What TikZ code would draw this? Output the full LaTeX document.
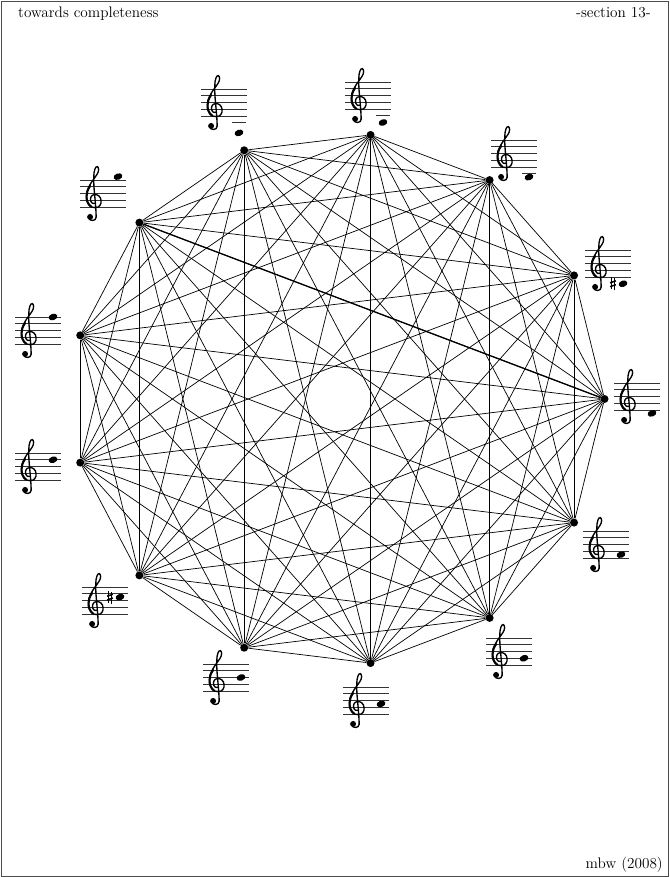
\documentclass[tikz,border=0pt]{standalone}
\usepackage{tikz}
\usetikzlibrary{shapes.geometric}
\usetikzlibrary{calc}
% treble clef: #1 = x of the stem, #2 = y of the G line (one unit = one staff space)
\newcommand{\trebleclef}[2]{%
  \begin{scope}[shift={(#1,#2)}, scale=7.1, clefline]
    \draw (0.3,-2.4) .. controls (0.3,-1.2) and (0.1,0.5) .. (0.0,1.8)
      .. controls (-0.05,2.7) and (-0.1,3.9) .. (0.15,4.45)
      .. controls (0.3,4.85) and (0.65,4.85) .. (0.65,4.3)
      .. controls (0.65,3.4) and (-1.0,2.4) .. (-1.05,0.6)
      .. controls (-1.1,-0.5) and (-0.5,-1.05) .. (0.15,-1.05)
      .. controls (0.75,-1.05) and (1.05,-0.6) .. (1.0,-0.05)
      .. controls (0.95,0.55) and (0.5,0.85) .. (0.05,0.8)
      .. controls (-0.4,0.75) and (-0.6,0.3) .. (-0.45,-0.15)
      .. controls (-0.35,-0.4) and (-0.15,-0.5) .. (0.05,-0.45);
    \draw[line width=1.8pt] (-0.55,2.0) .. controls (-0.9,1.5) and (-1.05,1.1) .. (-1.05,0.6)
      .. controls (-1.08,0.0) and (-0.85,-0.6) .. (-0.4,-0.9);
    \draw (0.3,-2.4) .. controls (0.3,-2.95) and (-0.6,-3.0) .. (-0.75,-2.5);
    \fill (-0.55,-2.35) circle (0.42);
  \end{scope}}
% one staff: #1 name, #2 left end, #3 top line, #4 half-steps of the note below the top line
\newcommand{\stave}[4]{%
  \foreach \l in {0,...,4}
    \draw[staffline] (#2,-#3-\l*6.75) -- ++(46,0);
  \trebleclef{#2+14}{-#3-20.25}
  \node[notehd] (#1n) at (#2+38,-#3-#4*3.375) {};}
% ledger line for C4
\newcommand{\ledger}[2]{\draw[staffline] (#1+31,-#2-33.75) -- ++(14,0);}
% sharp in front of the note
\newcommand{\sharpat}[3]{%
  \begin{scope}[shift={(#1+28,-#2-#3*3.375)}]
    \draw[sharpthin] (-1.3,-5.5) -- (-1.3,6.5);
    \draw[sharpthin] (1.3,-6.5) -- (1.3,5.5);
    \draw[sharpthick] (-2.9,0.9) -- (2.9,2.9);
    \draw[sharpthick] (-2.9,-2.9) -- (2.9,-0.9);
  \end{scope}}

\begin{document}
\begin{tikzpicture}[
  x=0.03cm, y=0.03cm,
  edge/.style={line width=0.6pt, black},
  vtx/.style={circle, fill=black, minimum size=0.24cm, inner sep=0pt},
  staffline/.style={line width=0.55pt, black!80},
  clefline/.style={line width=1.15pt, line cap=round},
  notehd/.style={ellipse, fill=black, minimum width=0.27cm, minimum height=0.19cm,
                 inner sep=0pt, rotate=20},
  sharpthin/.style={line width=0.5pt},
  sharpthick/.style={line width=1.3pt},
  hdr/.style={font=\fontsize{13}{15}\selectfont, inner sep=0pt},
  frame/.style={line width=0.8pt, black!70}]
\useasboundingbox (0,0) rectangle (669,-877);
\draw[frame] (1,-1) rectangle (668,-876);
% page texts
\node[hdr, anchor=base west] (ttl) at (18,-18) {towards completeness};
\node[hdr, anchor=base east] (sec) at (651,-18) {-section 13-};
\node[hdr, anchor=base east] (auth) at (663,-868) {mbw (2008)};
% thirteen points on the circle
\coordinate (ctr) at (338.5,-399);
\foreach \k in {0,...,12}
  \node[vtx] (v\k) at ($(ctr)+({\k*360/13}:266)$) {};
% every pair joined
\foreach \i in {0,...,11} {
  \pgfmathtruncatemacro{\nx}{\i+1}
  \foreach \j in {\nx,...,12}
    \draw[edge] (v\i) -- (v\j);
}
\draw[edge, line width=1.1pt] (v5) -- (v0);
% the notes, G5 down to G3
\stave{s5}{80}{180}{-1}
\stave{s6}{15}{317}{0}
\stave{s7}{15}{453}{2}
\stave{s8}{82}{587}{3}   \sharpat{82}{587}{3}
\stave{s9}{203}{664}{4}
\stave{s10}{343}{687}{5}
\stave{s11}{486}{638}{6}
\stave{s12}{583}{531}{7}
\stave{s0}{614}{383}{9}
\stave{s1}{585}{250}{10} \sharpat{585}{250}{10}
\stave{s2}{491}{140}{11} \ledger{491}{140}
\stave{s3}{345}{82}{12}  \ledger{345}{82}
\stave{s4}{201}{89}{13}  \ledger{201}{89}
\end{tikzpicture}
\end{document}
